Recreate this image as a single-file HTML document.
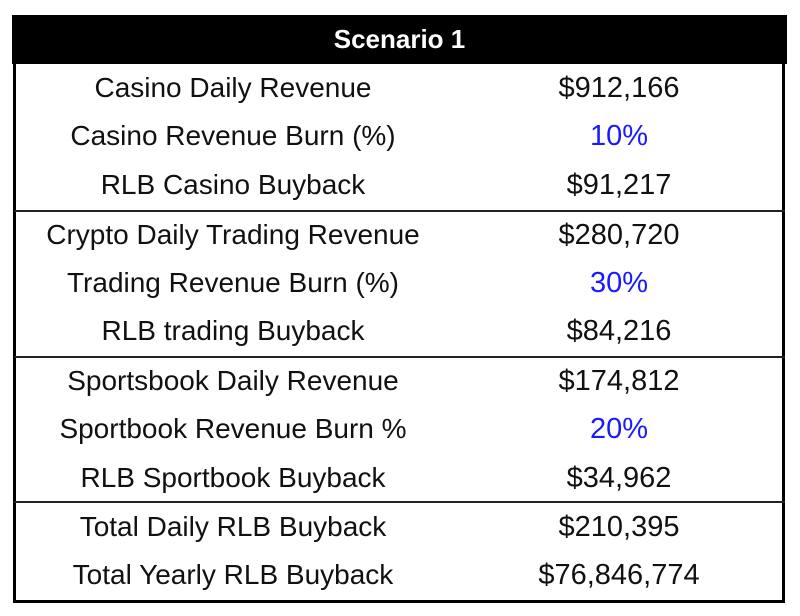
<!DOCTYPE html>
<html><head><meta charset="utf-8"><style>
body{margin:0;background:#fff;width:800px;height:616px;position:relative;font-family:"Liberation Sans",sans-serif;}
#tbl{position:absolute;left:13px;top:15px;width:772px;height:588px;border:3px solid #000;border-top:none;box-sizing:border-box;}
#hdr{position:absolute;left:12px;top:15px;width:775px;height:49px;background:#000;color:#fff;font-weight:bold;font-size:26px;text-align:center;line-height:49px;}
.c{position:absolute;font-size:28px;color:#111;text-align:center;white-space:nowrap;}
.l{left:15px;width:436px;}
.r{left:430px;width:378px;font-size:29px;}
.b{color:#1a1aff;}
.d{position:absolute;left:14px;width:771px;height:2px;background:#222;}
</style></head><body>
<div id="tbl"></div>
<div id="hdr">Scenario 1</div>
<div class="d" style="top:210px"></div>
<div class="d" style="top:356px"></div>
<div class="d" style="top:501px"></div>
<div class="c l" style="top:72px">Casino Daily Revenue</div>
<div class="c r" style="top:72px">$912,166</div>
<div class="c l" style="top:120px">Casino Revenue Burn (%)</div>
<div class="c r b" style="top:120px">10%</div>
<div class="c l" style="top:169px">RLB Casino Buyback</div>
<div class="c r" style="top:169px">$91,217</div>
<div class="c l" style="top:219px">Crypto Daily Trading Revenue</div>
<div class="c r" style="top:219px">$280,720</div>
<div class="c l" style="top:267px">Trading Revenue Burn (%)</div>
<div class="c r b" style="top:267px">30%</div>
<div class="c l" style="top:315px">RLB trading Buyback</div>
<div class="c r" style="top:315px">$84,216</div>
<div class="c l" style="top:365px">Sportsbook Daily Revenue</div>
<div class="c r" style="top:365px">$174,812</div>
<div class="c l" style="top:413px">Sportbook Revenue Burn %</div>
<div class="c r b" style="top:413px">20%</div>
<div class="c l" style="top:462px">RLB Sportbook Buyback</div>
<div class="c r" style="top:462px">$34,962</div>
<div class="c l" style="top:511px">Total Daily RLB Buyback</div>
<div class="c r" style="top:511px">$210,395</div>
<div class="c l" style="top:559px">Total Yearly RLB Buyback</div>
<div class="c r" style="top:559px">$76,846,774</div>
</body></html>
